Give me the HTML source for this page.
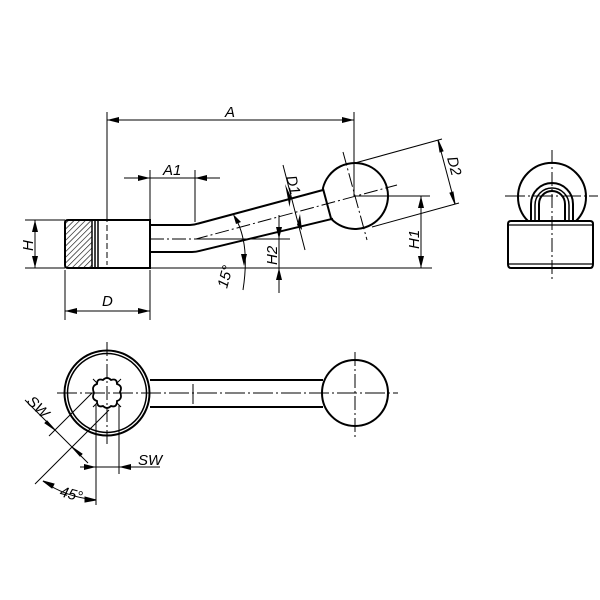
<!DOCTYPE html>
<html><head><meta charset="utf-8"><style>
html,body{margin:0;padding:0;background:#fff;}
svg{display:block;}
text{font-family:"Liberation Sans",sans-serif;font-style:italic;font-size:15px;fill:#000;}
</style></head><body>
<svg width="600" height="600" viewBox="0 0 600 600" xmlns="http://www.w3.org/2000/svg">
<defs>
<marker id="ar" viewBox="0 0 12 6" refX="12" refY="3" markerWidth="12" markerHeight="6" orient="auto" markerUnits="userSpaceOnUse">
<path d="M0,0 L12,3 L0,6 Z" fill="#000"/></marker>
<pattern id="hatch" width="4" height="4" patternUnits="userSpaceOnUse" patternTransform="rotate(45)">
<line x1="0" y1="0" x2="0" y2="4" stroke="#000" stroke-width="1.2"/></pattern>
</defs>
<g fill="none" stroke="#000">
<!-- hub -->
<rect x="65" y="220" width="27" height="48" rx="3" fill="url(#hatch)" stroke="none"/>
<path d="M68,220 H150 V268 H68 Q65,268 65,265 V223 Q65,220 68,220 Z" stroke-width="2"/>
<line x1="92" y1="220" x2="92" y2="268" stroke-width="1.5"/>
<line x1="95" y1="220" x2="95" y2="268" stroke-width="1.5"/>
<line x1="98" y1="220" x2="98" y2="268" stroke-width="1.5"/>
<!-- rod -->
<path d="M150,225 H190 Q194,225 198,223.6 L323,190" stroke-width="2"/>
<path d="M150,252 H192 Q196,252 200,250.8 L333,218.7" stroke-width="2"/>
<!-- ball -->
<path d="M322.9,188.3 A33 33 0 1 1 331.1,218.7 Z" stroke-width="2"/>
<!-- center lines -->
<path d="M150,239 H196 L397,185" stroke-width="1" stroke-dasharray="14,3,2,3"/>
<line x1="107" y1="225" x2="107" y2="265" stroke-width="1" stroke-dasharray="6,3"/>
<line x1="343" y1="152" x2="367" y2="240" stroke-width="1" stroke-dasharray="14,3,2,3"/>
<line x1="196" y1="239" x2="290" y2="239" stroke-width="1"/>
<!-- A -->
<line x1="107" y1="112" x2="107" y2="222" stroke-width="1"/>
<line x1="354" y1="112" x2="354" y2="196" stroke-width="1"/>
<line x1="107" y1="120" x2="354" y2="120" stroke-width="1" marker-end="url(#ar)"/>
<path d="M119,117 L107,120 L119,123 Z" fill="#000" stroke="none"/>
<!-- A1 -->
<line x1="150" y1="170" x2="150" y2="222" stroke-width="1"/>
<line x1="195" y1="170" x2="195" y2="222" stroke-width="1"/>
<line x1="124" y1="178" x2="150" y2="178" stroke-width="1" marker-end="url(#ar)"/>
<line x1="220" y1="178" x2="195" y2="178" stroke-width="1" marker-end="url(#ar)"/>
<line x1="150" y1="178" x2="195" y2="178" stroke-width="1"/>
<!-- H -->
<line x1="25" y1="220" x2="65" y2="220" stroke-width="1"/>
<line x1="25" y1="268" x2="65" y2="268" stroke-width="1"/>
<line x1="35" y1="244" x2="35" y2="220" stroke-width="1" marker-end="url(#ar)"/>
<line x1="35" y1="244" x2="35" y2="268" stroke-width="1" marker-end="url(#ar)"/>
<!-- baseline -->
<line x1="150" y1="268" x2="432" y2="268" stroke-width="1"/>
<!-- D -->
<line x1="65" y1="270" x2="65" y2="320" stroke-width="1"/>
<line x1="150" y1="270" x2="150" y2="320" stroke-width="1"/>
<line x1="107" y1="311" x2="65" y2="311" stroke-width="1" marker-end="url(#ar)"/>
<line x1="107" y1="311" x2="150" y2="311" stroke-width="1" marker-end="url(#ar)"/>
<!-- 15 deg arc -->
<path d="M236,219 Q250,245 243,290" stroke-width="1"/>
<path d="M233,214 L241,222 L236,224 Z" fill="#000" stroke="none"/>
<path d="M247,254 L244,266 L241,254 Z" fill="#000" stroke="none"/>
<!-- H2 -->
<line x1="279" y1="215" x2="279" y2="239" stroke-width="1" marker-end="url(#ar)"/>
<line x1="279" y1="293" x2="279" y2="268" stroke-width="1" marker-end="url(#ar)"/>
<line x1="279" y1="239" x2="279" y2="268" stroke-width="1"/>
<!-- D1 -->
<line x1="283" y1="165" x2="305" y2="250" stroke-width="1"/>
<path d="M285,184 L291,197 L289.5,207 Z" fill="#000" stroke="none"/>
<path d="M297,225 L300,214 L302,230 Z" fill="#000" stroke="none"/>
<!-- D2 -->
<line x1="355" y1="163" x2="442" y2="139" stroke-width="1"/>
<line x1="372" y1="227" x2="459" y2="203" stroke-width="1"/>
<line x1="438" y1="140" x2="455" y2="204" stroke-width="1"/>
<path d="M438,140 L443,151 L440,152 Z" fill="#000" stroke="#000" stroke-width="1"/>
<path d="M455,204 L450,193 L453,192 Z" fill="#000" stroke="#000" stroke-width="1"/>
<!-- H1 -->
<line x1="355" y1="196" x2="430" y2="196" stroke-width="1"/>
<line x1="421" y1="232" x2="421" y2="196" stroke-width="1" marker-end="url(#ar)"/>
<line x1="421" y1="232" x2="421" y2="268" stroke-width="1" marker-end="url(#ar)"/>

<!-- Side view -->
<path d="M528,221 A34 34 0 1 1 576,221" stroke-width="2"/>
<path d="M531,221 V204 A21 21 0 0 1 573,204 V221" stroke-width="2"/>
<path d="M535,221 V205 A17 17 0 0 1 569,205 V221" stroke-width="1.5"/>
<path d="M539,221 V204 A13 13 0 0 1 565,204 V221" stroke-width="2"/>
<path d="M511,221 H590 Q593,221 593,224 V264 Q593,268 590,268 H511 Q508,268 508,264 V224 Q508,221 511,221 Z" stroke-width="2"/>
<line x1="508" y1="225" x2="593" y2="225" stroke-width="1.2"/>
<line x1="508" y1="264" x2="593" y2="264" stroke-width="1.2"/>
<line x1="552" y1="150" x2="552" y2="280" stroke-width="1" stroke-dasharray="14,3,2,3"/>
<line x1="505" y1="196" x2="598" y2="196" stroke-width="1" stroke-dasharray="20,3,2,3"/>

<!-- Top view -->
<circle cx="107" cy="393" r="42.5" stroke-width="2"/>
<circle cx="107" cy="393" r="39.5" stroke-width="1.5"/>
<path d="M150,380 H323 M150,407 H323" stroke-width="2"/>
<circle cx="355" cy="393" r="33" stroke-width="2"/>
<line x1="57" y1="393" x2="398" y2="393" stroke-width="1" stroke-dasharray="20,3,2,3"/>
<line x1="107" y1="342" x2="107" y2="445" stroke-width="1" stroke-dasharray="14,3,2,3"/>
<line x1="355" y1="352" x2="355" y2="437" stroke-width="1" stroke-dasharray="14,3,2,3"/>
<line x1="193" y1="384" x2="193" y2="404" stroke-width="1"/>
<!-- star -->
<path d="M103,380 Q107,376 111,380 Q117,378 117,384 Q123,386 120,392 Q123,399 117,401 Q117,408 111,406 Q107,410 103,406 Q97,408 97,401 Q91,399 94,393 Q91,386 97,384 Q97,378 103,380 Z" stroke-width="1.8"/>
<path d="M93,379 L97,383 M121,379 L117,383 M93,407 L97,403 M121,407 L117,403" stroke-width="1"/>
<!-- SW vertical -->
<line x1="96" y1="405" x2="96" y2="505" stroke-width="1"/>
<line x1="119" y1="405" x2="119" y2="474" stroke-width="1"/>
<line x1="80" y1="467" x2="96" y2="467" stroke-width="1" marker-end="url(#ar)"/>
<line x1="160" y1="467" x2="119" y2="467" stroke-width="1" marker-end="url(#ar)"/>
<line x1="96" y1="467" x2="119" y2="467" stroke-width="1"/>
<!-- SW diagonal -->
<line x1="92" y1="393" x2="49" y2="436" stroke-width="1"/>
<line x1="109" y1="410" x2="35" y2="484" stroke-width="1"/>
<line x1="25" y1="400" x2="88" y2="463" stroke-width="1"/>
<path d="M55,430 L45,423 L47,421 Z" fill="#000" stroke="#000" stroke-width="1"/>
<path d="M72,447 L82,454 L80,456 Z" fill="#000" stroke="#000" stroke-width="1"/>
<!-- 45 arc -->
<path d="M43,481 Q65,497 96,500" stroke-width="1"/>
<path d="M43,481 L54,484 L52,488 Z" fill="#000" stroke="#000" stroke-width="1"/>
<path d="M96,500 L85,502 L85,497 Z" fill="#000" stroke="#000" stroke-width="1"/>
</g>
<text x="225" y="117">A</text>
<text x="163" y="175">A1</text>
<text x="102" y="306">D</text>
<text transform="translate(33,251) rotate(-90)">H</text>
<text transform="translate(277,265) rotate(-90)">H2</text>
<text transform="translate(419,249) rotate(-90)">H1</text>
<text transform="translate(286,177) rotate(75)">D1</text>
<text transform="translate(447,158) rotate(75)">D2</text>
<text transform="translate(227,289) rotate(-75)">15°</text>
<text x="138" y="465">SW</text>
<text transform="translate(26,402) rotate(45)">SW</text>
<text transform="translate(59,496) rotate(15)">45°</text>
</svg>
</body></html>
